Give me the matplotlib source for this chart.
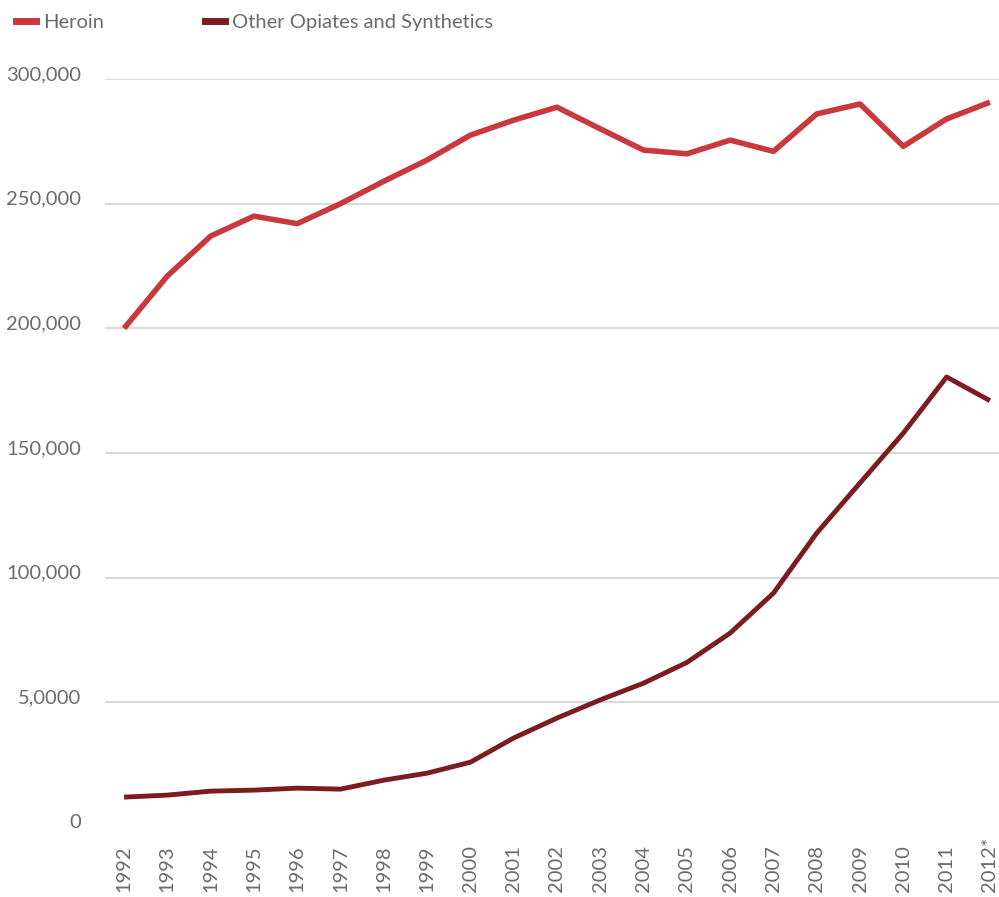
import matplotlib
matplotlib.use('Agg')
import matplotlib.pyplot as plt
import matplotlib.transforms as mtransforms
from matplotlib.lines import Line2D

plt.rcParams['font.family'] = ['Lato', 'DejaVu Sans']

years = list(range(1992, 2013))
year_labels = [str(y) for y in range(1992, 2012)] + ['2012*']

heroin = [200000, 221000, 237000, 245000, 242000, 250000, 259000, 267500,
          277500, 283500, 288700, 280000, 271500, 270000, 275500, 271000,
          286000, 290000, 273000, 284000, 290700]
other = [12000, 12800, 14400, 14800, 15600, 15200, 18800, 21600,
         26000, 35700, 43700, 51000, 57700, 66000, 77800, 93800,
         117900, 138000, 158000, 180500, 171000]

y_ticks = [0, 50000, 100000, 150000, 200000, 250000, 300000]
y_tick_labels = ['0', '5,0000', '100,000', '150,000', '200,000', '250,000', '300,000']

heroin_color = '#c8383d'
other_color = '#7a1c20'
text_color = '#6b6b6b'

fig = plt.figure(figsize=(9.99, 8.97), dpi=100)
ax = fig.add_axes([0.1051, 0.0780, 0.8949, 0.8339])

ax.plot(years, heroin, color=heroin_color, lw=4, solid_capstyle='butt', clip_on=False, zorder=3)
ax.plot(years, other, color=other_color, lw=3.5, solid_capstyle='butt', clip_on=False, zorder=3)

ax.set_xlim(1991.56, 2012.21)
ax.set_ylim(0, 300000)

ax.set_yticks(y_ticks)
ax.set_yticklabels(y_tick_labels)
ax.set_xticks(years)
# year labels share a common bottom edge (2012* sticks up higher)
ax.set_xticklabels(year_labels, rotation=90, va='bottom')

for y in y_ticks[1:]:
    ax.axhline(y, color='#d9d9d9', lw=1.5, zorder=1)

ax.tick_params(axis='y', length=0, pad=17, labelsize=14.5, labelcolor=text_color)
ax.tick_params(axis='x', length=0, pad=47, labelsize=14.5, labelcolor=text_color)

# labels sit a bit above their gridlines in the original
shift = mtransforms.ScaledTranslation(0, 6 / 100, fig.dpi_scale_trans)
for lab in ax.get_yticklabels():
    lab.set_transform(lab.get_transform() + shift)

for s in ax.spines.values():
    s.set_visible(False)

handles = [Line2D([0], [0], color=heroin_color, lw=5),
           Line2D([0], [0], color=other_color, lw=5)]
fig.legend(handles, ['Heroin', 'Other Opiates and Synthetics'],
           loc='upper left', bbox_to_anchor=(0.006, 0.996), ncol=2,
           frameon=False, fontsize=14.5, handlelength=1.0, handletextpad=0.35,
           columnspacing=5.0, borderpad=0, labelcolor=text_color)

fig.savefig('out.png', dpi=100)
